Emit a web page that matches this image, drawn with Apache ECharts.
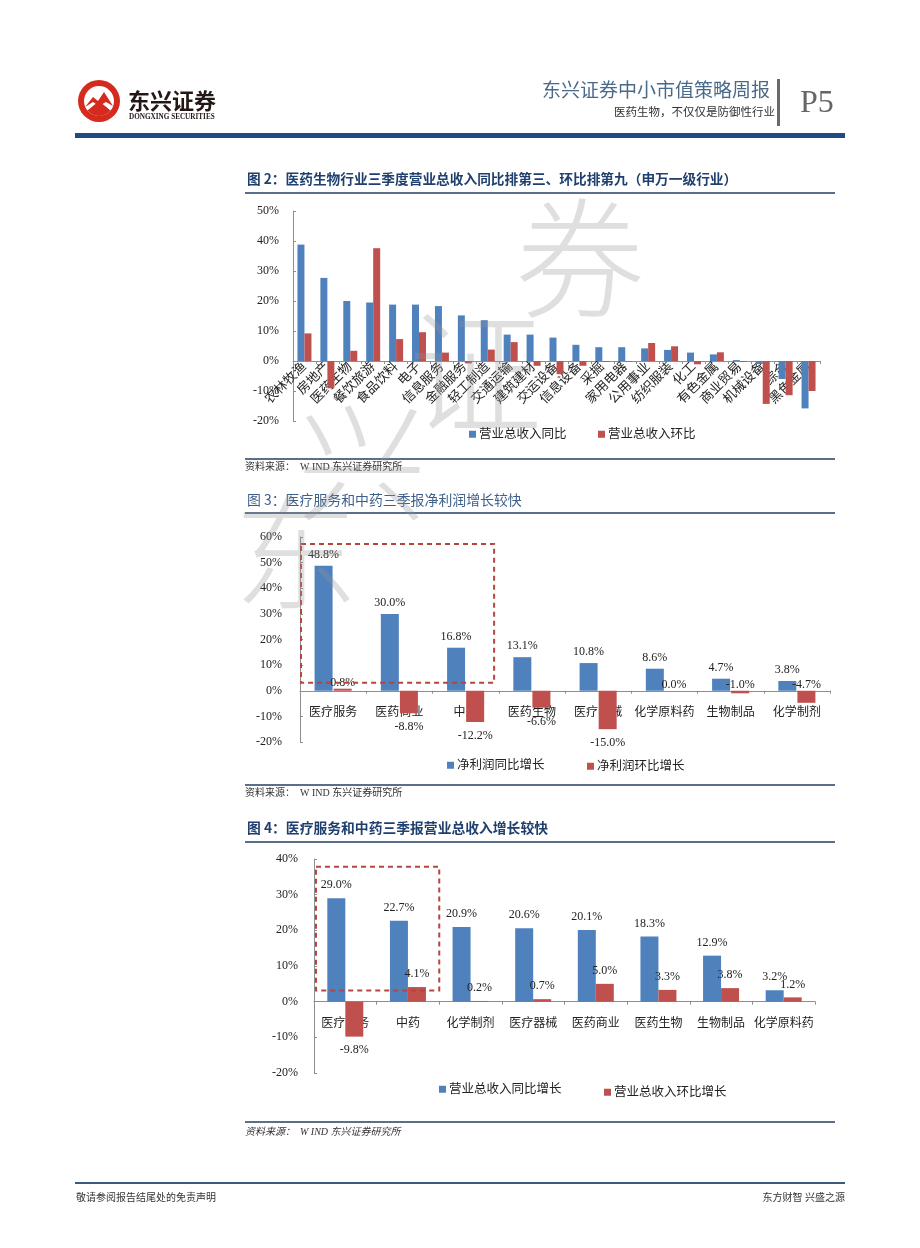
<!DOCTYPE html>
<html><head><meta charset="utf-8">
<script src="https://cdn.jsdelivr.net/npm/echarts@6/dist/echarts.min.js"></script>
<style>html,body{margin:0;padding:0;background:#fff}#c{width:920px;height:1248px}</style>
</head><body><div id="c"></div>
<script>
// ---- Figure 2 data (申万一级行业) ----
const cats2 = ['农林牧渔','房地产','医药生物','餐饮旅游','食品饮料','电子','信息服务','金融服务','轻工制造','交通运输','建筑建材','交运设备','信息设备','采掘','家用电器','公用事业','纺织服装','化工','有色金属','商业贸易','机械设备','综合','黑色金属'];
const revYoy2 = [38.8, 27.7, 20.0, 19.5, 18.8, 18.8, 18.3, 15.2, 13.6, 8.8, 8.8, 7.8, 5.4, 4.6, 4.6, 4.2, 3.7, 2.8, 2.2, 0.3, -1.0, -6.0, -15.8];
const revQoq2 = [9.2, -9.1, 3.4, 37.6, 7.3, 9.6, 2.8, -0.8, 3.8, 6.3, -1.6, -4.4, -1.6, -0.3, -0.2, 6.0, 4.9, -1.1, 2.9, -0.3, -14.3, -11.4, -10.0];
const names2 = ['营业总收入同比','营业总收入环比'];
// ---- Figure 3 data ----
const cats3 = ['医疗服务','医药商业','中药','医药生物','医疗器械','化学原料药','生物制品','化学制剂'];
const npYoy3 = [48.8, 30.0, 16.8, 13.1, 10.8, 8.6, 4.7, 3.8];
const npQoq3 = [0.8, -8.8, -12.2, -6.6, -15.0, 0.0, -1.0, -4.7];
const names3 = ['净利润同比增长','净利润环比增长'];
// ---- Figure 4 data ----
const cats4 = ['医疗服务','中药','化学制剂','医疗器械','医药商业','医药生物','生物制品','化学原料药'];
const revYoy4 = [29.0, 22.7, 20.9, 20.6, 20.1, 18.3, 12.9, 3.2];
const revQoq4 = [-9.8, 4.1, 0.2, 0.7, 5.0, 3.3, 3.8, 1.2];
const names4 = ['营业总收入同比增长','营业总收入环比增长'];
// axis ranges
const yRange2 = [-20, 50], yRange3 = [-20, 60], yRange4 = [-20, 40];

const SERIF = '"Liberation Serif","Noto Sans CJK SC",serif';
const BLUE = '#4f81bd', RED = '#c0504d', AX = '#8e8e8e';

const chart = echarts.init(document.getElementById('c'), null, {renderer:'canvas'});

const grids = [
  {left:293, top:211, width:527, height:210},
  {left:300, top:537, width:530, height:205},
  {left:314, top:859, width:501, height:214}
];
// move the category axis up to the zero line of its value axis
function zeroOffset(gi, r){ return -grids[gi].height * (0 - r[0]) / (r[1] - r[0]); }

function mkX(gi, data, r, lab){
  return {type:'category', gridIndex:gi, data, position:'bottom', offset: zeroOffset(gi, r),
    axisLine:{show:true,onZero:false,lineStyle:{color:AX,width:1}},
    axisTick:{show:true,length:3,lineStyle:{color:AX}},
    axisLabel:Object.assign({interval:0,color:'#222',fontSize:12,fontFamily:SERIF},lab)};
}
function mkY(gi, r, margin){
  return {type:'value', gridIndex:gi, min:r[0], max:r[1], interval:10,
    splitLine:{show:false},
    axisLine:{show:true,lineStyle:{color:AX}},
    axisTick:{show:true,inside:true,length:3,lineStyle:{color:AX}},
    axisLabel:{formatter:'{value}%',color:'#222',fontSize:12,margin,fontFamily:SERIF}};
}
const pct = p => Number(p.value).toFixed(1) + '%';
function labeled(arr, belowRule, dTop, dBot){
  return arr.map(v => {
    const below = belowRule(v);
    return {value:v, label:{position: below ? 'bottom' : 'top', distance: below ? dBot : dTop}};
  });
}
function barS(name, gi, data, color, w, gap, withLabel){
  const s = {name, type:'bar', xAxisIndex:gi, yAxisIndex:gi, data, barWidth:w, barGap:gap,
    itemStyle:{color}, emphasis:{disabled:true}};
  if (withLabel) s.label = {show:true, formatter:pct, fontSize:12, color:'#222', fontFamily:SERIF};
  return s;
}
function T(text, x, y, size, fill, opt){
  opt = opt || {};
  return {type:'text', z:50, style:{text, x, y, fill,
    font:(opt.style||'normal')+' '+(opt.weight||'normal')+' '+size+'px '+(opt.family||SERIF),
    textAlign:opt.align||'left', textVerticalAlign:'middle'}};
}
function L(x1,y1,x2,y2,color,w){
  return {type:'line', z:40, shape:{x1,y1,x2,y2}, style:{stroke:color,lineWidth:w}};
}
function legendItem(name, left, top){
  return {data:[name], left, top, itemWidth:7, itemHeight:7, icon:'rect', itemGap:0,
    textStyle:{fontSize:12.5,color:'#222',fontFamily:SERIF,padding:[0,0,0,-2]}, selectedMode:false};
}

const CJK = '"Noto Sans CJK SC",sans-serif';
const HEAD = '#1f3f6e';
const WM = 'rgba(150,150,150,0.3)';
const baseGraphic = [
  // logo
  {type:'circle', shape:{cx:99,cy:101,r:21}, style:{fill:'#d52b1e'}},
  {type:'circle', shape:{cx:99,cy:101,r:15}, style:{fill:'#fff'}},
  {type:'polygon', shape:{points:[[85,107],[93,97],[98,101],[104,92],[113,106],[106,102],[99,106],[93,102]]}, style:{fill:'#d52b1e'}},
  {type:'sector', shape:{cx:99,cy:101,r:15,r0:0,startAngle:0.22*Math.PI,endAngle:0.78*Math.PI,clockwise:true}, style:{fill:'#d52b1e'}},
  T('东兴证券', 128, 101, 22, '#231815', {weight:'bold', family:CJK}),
  T('DONGXING SECURITIES', 129, 117, 7.2, '#231815', {weight:'bold'}),
  // header right
  T('东兴证券中小市值策略周报', 770, 92, 19, '#4a6a8a', {align:'right'}),
  T('医药生物，不仅仅是防御性行业', 775, 113, 11.5, '#333', {align:'right'}),
  {type:'rect', shape:{x:777,y:79,width:3,height:47}, style:{fill:'#6a6a6a'}},
  T('P5', 800, 104, 32, '#666'),
  {type:'rect', shape:{x:75,y:133,width:770,height:5}, style:{fill:'#1e4a86'}},
  // figure 2 title and source
  T('图 2：医药生物行业三季度营业总收入同比排第三、环比排第九（申万一级行业）', 247, 179, 13.7, HEAD, {weight:'bold', family:CJK}),
  L(245,193,835,193,'#5a6f8a',2),
  L(245,459,835,459,'#5a6f8a',2),
  T('资料来源：  W IND 东兴证券研究所', 245, 467, 10, '#333'),
  // figure 3 title and source
  T('图 3：医疗服务和中药三季报净利润增长较快', 247, 500, 13.9, '#3d5f8a', {family:CJK}),
  L(245,513,835,513,'#5a6f8a',2),
  L(245,785,835,785,'#5a6f8a',2),
  T('资料来源：  W IND 东兴证券研究所', 245, 793, 10, '#333'),
  // figure 4 title and source
  T('图 4：医疗服务和中药三季报营业总收入增长较快', 247, 828, 13.8, HEAD, {weight:'bold', family:CJK}),
  L(245,842,835,842,'#5a6f8a',2),
  L(245,1122,835,1122,'#5a6f8a',2),
  T('资料来源：  W IND 东兴证券研究所', 245, 1132, 10, '#333', {style:'italic'}),
  // footer
  L(75,1183,845,1183,'#3c5a80',2),
  T('敬请参阅报告结尾处的免责声明', 76, 1198, 10, '#333'),
  T('东方财智 兴盛之源', 845, 1198, 10, '#333', {align:'right'}),
  // watermark
  T('券', 580, 258, 130, WM, {family:CJK, align:'center', weight:300}),
  T('证', 475, 372, 135, WM, {family:CJK, align:'center', weight:300}),
  T('兴', 362, 462, 130, WM, {family:CJK, align:'center', weight:300}),
  T('东', 296, 552, 125, WM, {family:CJK, align:'center', weight:300})
];

function buildOption(extraGraphic){
  return {
    animation:false,
    backgroundColor:'#fff',
    textStyle:{fontFamily:SERIF},
    grid: grids,
    xAxis:[
      mkX(0, cats2, yRange2, {rotate:45, margin:4, fontSize:13}),
      mkX(1, cats3, yRange3, {margin:16}),
      mkX(2, cats4, yRange4, {margin:16})
    ],
    yAxis:[ mkY(0, yRange2, 14), mkY(1, yRange3, 18), mkY(2, yRange4, 16) ],
    legend:[
      legendItem(names2[0], 464, 423), legendItem(names2[1], 593, 423),
      legendItem(names3[0], 442, 754), legendItem(names3[1], 582, 755),
      legendItem(names4[0], 434, 1078), legendItem(names4[1], 599, 1081)
    ],
    series:[
      barS(names2[0], 0, revYoy2, BLUE, 7, '0%', false),
      barS(names2[1], 0, revQoq2, RED, 7, '0%', false),
      barS(names3[0], 1, labeled(npYoy3, v => v < 0, 5, 8), BLUE, 18, '6%', true),
      barS(names3[1], 1, labeled(npQoq3, v => v < -5, 0, 8), RED, 18, '6%', true),
      barS(names4[0], 2, labeled(revYoy4, v => v < 0, 7, 7), BLUE, 18, '0%', true),
      barS(names4[1], 2, labeled(revQoq4, v => v < 0, 7, 7), RED, 18, '0%', true)
    ],
    graphic: baseGraphic.concat(extraGraphic || [])
  };
}

chart.setOption(buildOption());

// dashed highlight boxes, placed through the axes
function box(idx, spanCats, yTop, yBot, padL){
  const f = {xAxisIndex:idx, yAxisIndex:idx};
  const a = chart.convertToPixel(f, [0, yTop]);
  const b = chart.convertToPixel(f, [1, yBot]);
  const band = b[0] - a[0];
  const left = a[0] - band/2 + padL;
  const right = a[0] + spanCats*band;
  return {type:'rect', z:30, shape:{x:left, y:a[1], width:right-left, height:b[1]-a[1]},
    style:{fill:'none', stroke:'#b5453f', lineWidth:2, lineDash:[5,4]}};
}
const boxes = [ box(1, 2.43, 57.3, 3.1, 1), box(2, 1.5, 37.8, 3.1, 2) ];
chart.setOption(buildOption(boxes), {notMerge:true});
</script>
</body></html>
